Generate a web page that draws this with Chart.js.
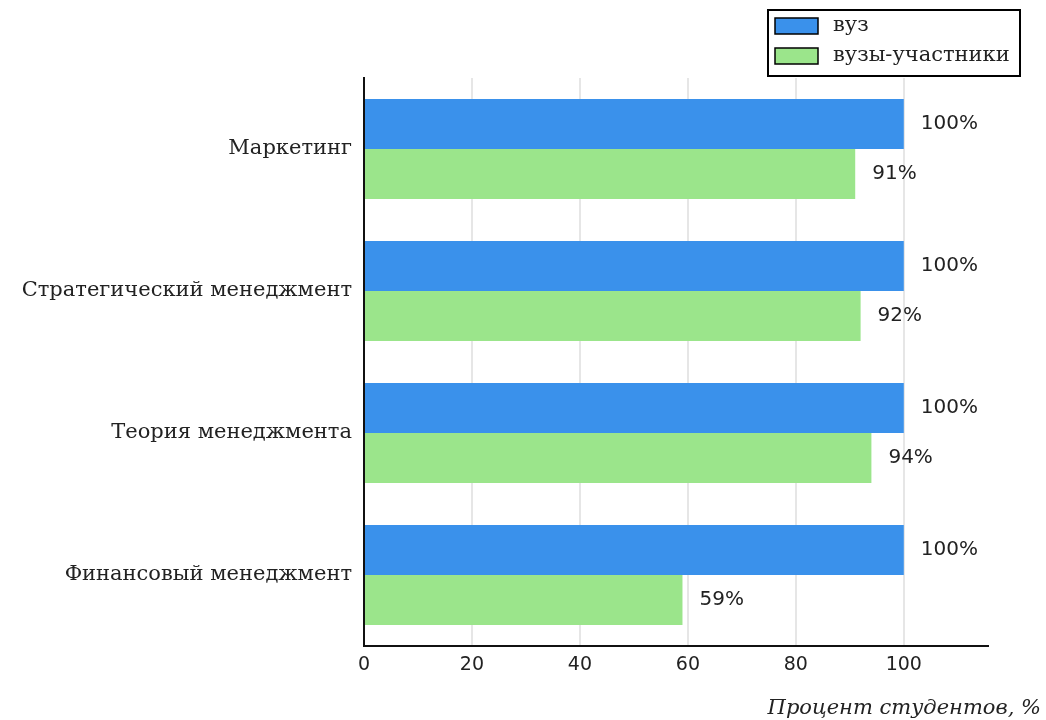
<!DOCTYPE html>
<html lang="ru">
<head>
    <meta charset="UTF-8">
    <script src="https://cdn.jsdelivr.net/npm/chart.js"></script>
    <style>
        body { margin: 0; background: #fff; }
        #chart { display: block; }
    </style>
</head>
<body>
    <canvas id="chart" width="1046" height="720"></canvas>

    <script>
        // data
        const categories = ['Маркетинг', 'Стратегический менеджмент', 'Теория менеджмента', 'Финансовый менеджмент'];
        const seriesNames = ['вуз', 'вузы-участники'];
        const vuzValues = [100, 100, 100, 100];
        const participantValues = [91, 92, 94, 59];
        const xTicks = [0, 20, 40, 60, 80, 100];

        const blue = 'rgb(58, 145, 235)';
        const green = 'rgb(155, 229, 139)';

        // value labels at end of each bar
        const valueLabels = {
            id: 'valueLabels',
            afterDatasetsDraw(chart) {
                const ctx = chart.ctx;
                ctx.save();
                ctx.font = '20px "DejaVu Sans"';
                ctx.fillStyle = '#222';
                ctx.textBaseline = 'middle';
                ctx.textAlign = 'left';
                chart.data.datasets.forEach((ds, i) => {
                    chart.getDatasetMeta(i).data.forEach((bar, j) => {
                        ctx.fillText(ds.data[j] + '%', bar.x + 17, bar.y);
                    });
                });
                ctx.restore();
            }
        };

        // boxed legend in top right + italic axis title
        const boxLegend = {
            id: 'boxLegend',
            afterDraw(chart) {
                const ctx = chart.ctx;
                ctx.save();
                ctx.lineWidth = 2;
                ctx.strokeStyle = '#000';
                ctx.strokeRect(768, 10, 252, 66);
                ctx.font = '21px "DejaVu Serif"';
                ctx.textBaseline = 'middle';
                chart.data.datasets.forEach((ds, i) => {
                    const y = 18 + i * 30;
                    ctx.fillStyle = ds.backgroundColor;
                    ctx.fillRect(775, y, 43, 16);
                    ctx.lineWidth = 1.5;
                    ctx.strokeRect(775, y, 43, 16);
                    ctx.fillStyle = '#222';
                    ctx.fillText(ds.label, 833, y + 8);
                });

                ctx.font = 'italic 21px "DejaVu Serif"';
                ctx.textAlign = 'right';
                ctx.fillStyle = '#222';
                ctx.fillText('Процент студентов, %', 1041, 709);
                ctx.restore();
            }
        };

        new Chart(document.getElementById('chart'), {
            type: 'bar',
            data: {
                labels: categories,
                datasets: [{
                    label: seriesNames[0],
                    data: vuzValues,
                    backgroundColor: blue
                }, {
                    label: seriesNames[1],
                    data: participantValues,
                    backgroundColor: green
                }]
            },
            options: {
                indexAxis: 'y',
                responsive: false,
                animation: false,
                categoryPercentage: 0.704,
                barPercentage: 1,
                layout: { padding: { top: 78, right: 58, bottom: 46, left: 0 } },
                plugins: {
                    legend: { display: false },
                    tooltip: { enabled: false }
                },
                scales: {
                    x: {
                        min: 0,
                        max: 115.6,
                        afterBuildTicks(scale) {
                            scale.ticks = xTicks.map(v => ({ value: v }));
                        },
                        afterFit(scale) { scale.height = 28; },
                        grid: {
                            drawTicks: false,
                            lineWidth: 2,
                            color: ctx => ctx.tick && ctx.tick.value === 0 ? 'rgba(0,0,0,0)' : '#e6e6e6'
                        },
                        border: { color: '#111', width: 2 },
                        ticks: {
                            padding: 8,
                            color: '#222',
                            font: { family: 'DejaVu Sans', size: 19 }
                        }
                    },
                    y: {
                        afterFit(scale) { scale.width = 364; },
                        grid: { display: false, drawTicks: false },
                        border: { color: '#111', width: 2 },
                        ticks: {
                            padding: 12,
                            color: '#222',
                            font: { family: 'DejaVu Serif', size: 21 }
                        }
                    }
                }
            },
            plugins: [valueLabels, boxLegend]
        });
    </script>
</body>
</html>
